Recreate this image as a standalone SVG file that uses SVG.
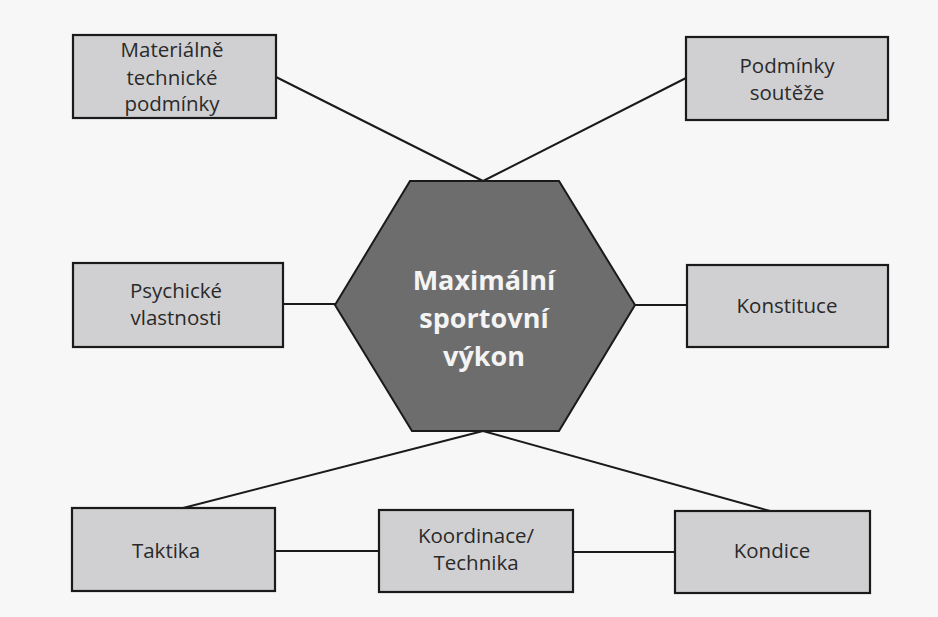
<svg xmlns="http://www.w3.org/2000/svg" width="938" height="617" viewBox="0 0 938 617">
  <style>
    .box { fill: #d0d0d2; stroke: #1a1a1a; stroke-width: 2.2; }
    .hex { fill: #6d6d6e; stroke: #1a1a1a; stroke-width: 2; }
    .lbl { font-family: "Open Sans", "Noto Sans", "DejaVu Sans", sans-serif; font-size: 20.5px; fill: #2a2a2a; text-anchor: middle; }
    .core { font-family: "Open Sans", "Noto Sans", "DejaVu Sans", sans-serif; font-size: 27px; font-weight: bold; fill: #f4f4f4; text-anchor: middle; }
    .edge { stroke: #1a1a1a; stroke-width: 2; fill: none; }
  </style>

  <rect x="0" y="0" width="938" height="617" fill="#f7f7f8"/>

  <!-- connectors -->
  <g id="connectors">
    <line class="edge" x1="276" y1="77" x2="483" y2="181"/>
    <line class="edge" x1="686" y1="78" x2="483" y2="181"/>
    <line class="edge" x1="283" y1="304" x2="335" y2="304"/>
    <line class="edge" x1="635" y1="305" x2="687" y2="305"/>
    <line class="edge" x1="183" y1="508" x2="483" y2="431"/>
    <line class="edge" x1="770" y1="511" x2="483" y2="431"/>
    <line class="edge" x1="275" y1="551" x2="379" y2="551"/>
    <line class="edge" x1="573" y1="552" x2="675" y2="552"/>
  </g>

  <!-- central hexagon -->
  <g id="vykon">
    <polygon class="hex" points="410,181 559,181 635,305 559,431 412,431 335,305"/>
    <text class="core" x="484" y="290">Maximální</text>
    <text class="core" x="484" y="328">sportovní</text>
    <text class="core" x="484" y="366">výkon</text>
  </g>

  <g id="materialne">
    <rect class="box" x="73" y="35" width="203" height="83"/>
    <text class="lbl" x="172" y="57">Materiálně</text>
    <text class="lbl" x="172" y="85">technické</text>
    <text class="lbl" x="172" y="111">podmínky</text>
  </g>

  <g id="podminky">
    <rect class="box" x="686" y="37" width="202" height="83"/>
    <text class="lbl" x="787" y="73">Podmínky</text>
    <text class="lbl" x="787" y="100">soutěže</text>
  </g>

  <g id="psychicke">
    <rect class="box" x="73" y="263" width="210" height="84"/>
    <text class="lbl" x="176" y="298">Psychické</text>
    <text class="lbl" x="176" y="325">vlastnosti</text>
  </g>

  <g id="konstituce">
    <rect class="box" x="687" y="265" width="201" height="82"/>
    <text class="lbl" x="787" y="313">Konstituce</text>
  </g>

  <g id="taktika">
    <rect class="box" x="72" y="508" width="203" height="83"/>
    <text class="lbl" x="166" y="558">Taktika</text>
  </g>

  <g id="koordinace">
    <rect class="box" x="379" y="510" width="194" height="82"/>
    <text class="lbl" x="476" y="543">Koordinace/</text>
    <text class="lbl" x="476" y="570">Technika</text>
  </g>

  <g id="kondice">
    <rect class="box" x="675" y="511" width="195" height="82"/>
    <text class="lbl" x="772" y="558">Kondice</text>
  </g>
</svg>
